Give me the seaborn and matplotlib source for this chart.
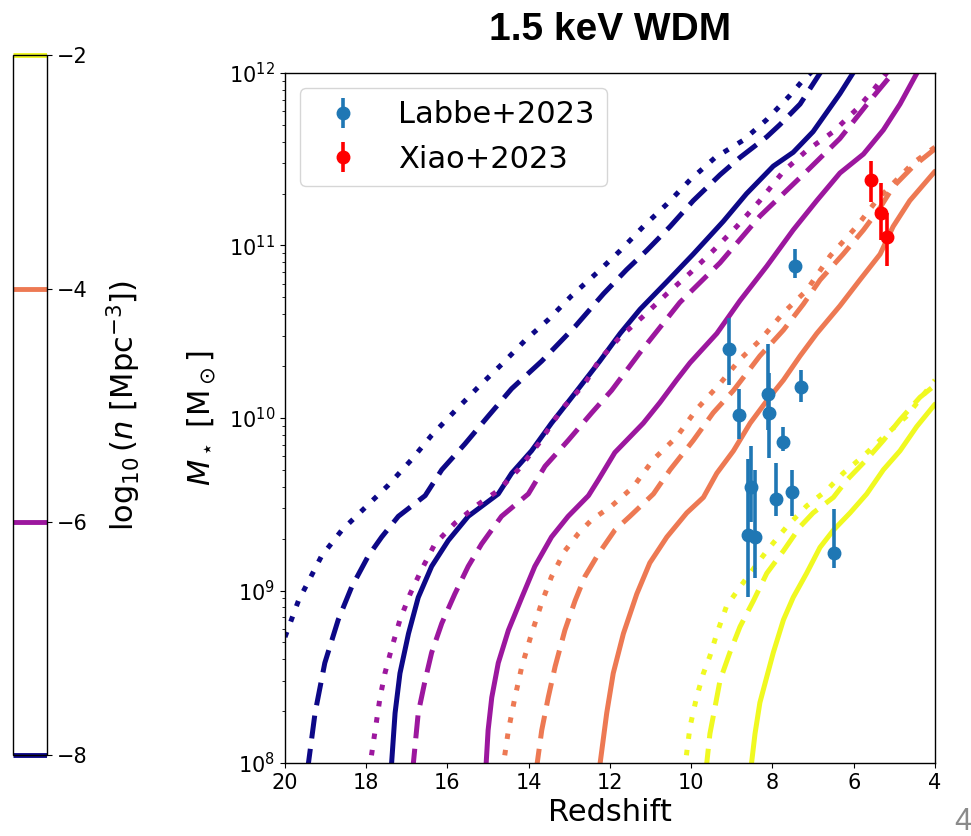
import numpy as np
import pandas as pd
import matplotlib
matplotlib.use("Agg")
import matplotlib.pyplot as plt
import seaborn as sns
from matplotlib.colors import Normalize, ListedColormap
from matplotlib.cm import ScalarMappable

# ---------------------------------------------------------------------------
# Model curves: redshift vs log10 stellar mass for four number densities
# log10(n / Mpc^-3) = -8, -6, -4, -2 and three model variants each.
# ---------------------------------------------------------------------------
n8_dotted_z = [20.0, 19.67, 19.10, 18.60, 18.03, 17.46, 16.88, 16.39, 15.82, 15.24, 14.67, 14.09, 13.52,
               12.94, 12.33, 11.75, 11.18, 10.60, 10.03, 9.41, 8.72, 8.14, 7.57, 7.28, 6.98]
n8_dotted_logm = [8.73, 8.94, 9.20, 9.35, 9.48, 9.61, 9.76, 9.90, 10.04, 10.18, 10.31, 10.45, 10.57,
                  10.71, 10.84, 10.97, 11.11, 11.24, 11.38, 11.51, 11.61, 11.73, 11.87, 11.95, 12.02]

n8_dashed_z = [19.45, 19.26, 19.02, 18.69, 18.36, 17.95, 17.62, 17.21, 16.55, 16.14, 15.57, 15.00, 14.42,
               13.68, 12.86, 12.16, 11.59, 11.10, 10.52, 9.95, 9.29, 8.80, 8.14, 7.82, 7.32, 6.80]
n8_dashed_logm = [7.95, 8.29, 8.58, 8.83, 9.02, 9.20, 9.31, 9.43, 9.55, 9.70, 9.85, 10.01, 10.17,
                  10.33, 10.53, 10.72, 10.86, 10.97, 11.11, 11.26, 11.41, 11.51, 11.63, 11.70, 11.82, 12.01]

n8_solid_z = [17.39, 17.29, 17.17, 16.96, 16.72, 16.39, 15.98, 15.49, 14.75, 14.42, 13.93, 13.44, 12.94,
              12.25, 11.75, 11.26, 10.60, 9.95, 9.21, 8.64, 7.98, 7.49, 7.00, 6.67, 6.34, 5.99]
n8_solid_logm = [7.95, 8.29, 8.52, 8.75, 8.96, 9.14, 9.29, 9.43, 9.56, 9.68, 9.81, 9.97, 10.12,
                 10.33, 10.49, 10.63, 10.79, 10.95, 11.14, 11.30, 11.46, 11.54, 11.66, 11.77, 11.88, 12.01]

n6_dotted_z = [17.93, 17.78, 17.66, 17.54, 17.37, 17.17, 16.92, 16.64, 16.31, 15.82, 15.24, 14.75, 14.26,
               13.76, 13.19, 12.62, 12.25, 11.75, 11.18, 10.60, 10.03, 9.46, 8.88, 8.31, 7.73, 7.16,
               6.50, 5.93, 5.52, 5.16]
n6_dotted_logm = [7.95, 8.19, 8.38, 8.52, 8.67, 8.83, 8.98, 9.12, 9.27, 9.39, 9.50, 9.58, 9.70,
                  9.85, 10.05, 10.20, 10.34, 10.47, 10.59, 10.72, 10.84, 10.97, 11.11, 11.26, 11.43, 11.55,
                  11.66, 11.79, 11.90, 12.01]

n6_dashed_z = [16.86, 16.72, 16.55, 16.39, 16.14, 15.82, 15.49, 15.16, 14.67, 14.01, 13.60, 13.03, 12.45,
               11.96, 11.26, 10.28, 9.29, 8.31, 7.16, 6.34, 5.60, 5.00]
n6_dashed_logm = [7.95, 8.29, 8.48, 8.64, 8.81, 8.98, 9.14, 9.27, 9.43, 9.56, 9.72, 9.87, 10.03,
                  10.16, 10.38, 10.67, 10.90, 11.17, 11.43, 11.62, 11.84, 12.01]

n6_solid_z = [15.06, 15.00, 14.91, 14.75, 14.50, 14.17, 13.85, 13.44, 13.03, 12.53, 12.29, 11.88, 11.18,
              10.77, 10.36, 10.03, 9.37, 8.80, 8.14, 7.49, 6.91, 6.34, 5.76, 5.27, 4.86, 4.42]
n6_solid_logm = [7.95, 8.19, 8.38, 8.58, 8.77, 8.96, 9.14, 9.31, 9.43, 9.55, 9.64, 9.80, 9.97,
                 10.09, 10.22, 10.32, 10.49, 10.68, 10.88, 11.09, 11.26, 11.42, 11.53, 11.67, 11.82, 12.01]

n4_dotted_z = [14.65, 14.50, 14.34, 14.17, 13.93, 13.68, 13.44, 13.11, 12.78, 12.45, 11.96, 11.43, 10.93,
               10.36, 9.87, 9.29, 8.80, 8.31, 7.73, 7.16, 6.58, 5.93, 5.44, 5.03, 4.53, 4.0]
n4_dotted_logm = [7.95, 8.19, 8.38, 8.56, 8.75, 8.93, 9.08, 9.23, 9.33, 9.41, 9.49, 9.60, 9.76,
                  9.89, 10.05, 10.20, 10.34, 10.45, 10.61, 10.74, 10.94, 11.11, 11.26, 11.36, 11.48, 11.57]

n4_dashed_z = [13.82, 13.68, 13.52, 13.35, 13.11, 12.86, 12.62, 12.29, 11.88, 11.51, 10.93, 10.52, 9.95,
               9.46, 8.96, 8.31, 7.73, 7.24, 6.83, 6.26, 5.76, 5.35, 5.03, 4.53, 4.0]
n4_dashed_logm = [7.95, 8.19, 8.38, 8.56, 8.77, 8.94, 9.08, 9.21, 9.35, 9.43, 9.56, 9.70, 9.87,
                  10.03, 10.16, 10.36, 10.51, 10.66, 10.80, 10.95, 11.09, 11.22, 11.34, 11.46, 11.56]

n4_solid_z = [12.27, 12.08, 11.92, 11.67, 11.34, 11.02, 10.60, 10.11, 9.70, 9.37, 8.96, 8.55, 8.14,
              7.73, 7.32, 6.91, 6.34, 5.85, 5.35, 5.03, 4.62, 4.0]
n4_solid_logm = [7.95, 8.29, 8.52, 8.75, 8.98, 9.16, 9.31, 9.45, 9.54, 9.68, 9.81, 9.97, 10.10,
                 10.22, 10.36, 10.49, 10.65, 10.80, 10.95, 11.11, 11.26, 11.43]

n2_dotted_z = [10.17, 10.03, 9.87, 9.70, 9.54, 9.37, 9.13, 8.80, 8.55, 8.14, 7.65, 7.16, 6.67,
               6.26, 5.76, 5.27, 4.70, 4.0]
n2_dotted_logm = [7.95, 8.21, 8.38, 8.52, 8.62, 8.75, 8.91, 9.02, 9.10, 9.23, 9.37, 9.49, 9.58,
                  9.68, 9.78, 9.89, 10.01, 10.22]

n2_dashed_z = [9.64, 9.54, 9.41, 9.29, 9.05, 8.80, 8.47, 8.14, 7.73, 7.32, 7.00, 6.50, 6.17,
               5.68, 5.27, 4.86, 4.37, 4.0]
n2_dashed_logm = [7.95, 8.17, 8.33, 8.48, 8.64, 8.79, 8.94, 9.10, 9.23, 9.37, 9.45, 9.54, 9.64,
                  9.76, 9.87, 9.99, 10.12, 10.19]

n2_solid_z = [8.54, 8.43, 8.31, 8.14, 7.98, 7.73, 7.49, 7.16, 6.83, 6.50, 6.09, 5.68, 5.27,
              4.86, 4.45, 4.0]
n2_solid_logm = [7.95, 8.17, 8.35, 8.50, 8.64, 8.83, 8.96, 9.10, 9.25, 9.35, 9.45, 9.56, 9.70,
                 9.81, 9.95, 10.08]

# ---------------------------------------------------------------------------
# Observed massive galaxies (log10 M*, with upper / lower bounds)
# ---------------------------------------------------------------------------
labbe_z = [9.07, 8.82, 8.11, 8.09, 7.31, 7.45, 7.75, 8.53, 8.60, 8.43, 7.91, 7.52, 6.49]
labbe_logm = [10.40, 10.02, 10.14, 10.03, 10.18, 10.88, 9.86, 9.60, 9.32, 9.31, 9.53, 9.57, 9.22]
labbe_logm_hi = [10.58, 10.17, 10.43, 10.26, 10.28, 10.98, 9.95, 9.84, 9.76, 9.70, 9.74, 9.70, 9.47]
labbe_logm_lo = [10.19, 9.88, 9.93, 9.77, 10.09, 10.81, 9.81, 9.40, 8.96, 9.07, 9.43, 9.43, 9.13]

xiao_z = [5.58, 5.32, 5.17]
xiao_logm = [11.38, 11.19, 11.05]
xiao_logm_hi = [11.49, 11.36, 11.19]
xiao_logm_lo = [11.25, 11.03, 10.88]

density_levels = [-8, -6, -4, -2]
variants = ["dotted", "dashed", "solid"]

# ---------------------------------------------------------------------------
# Tidy table for seaborn
# ---------------------------------------------------------------------------
curves = [
    (-8, "dotted", n8_dotted_z, n8_dotted_logm),
    (-8, "dashed", n8_dashed_z, n8_dashed_logm),
    (-8, "solid", n8_solid_z, n8_solid_logm),
    (-6, "dotted", n6_dotted_z, n6_dotted_logm),
    (-6, "dashed", n6_dashed_z, n6_dashed_logm),
    (-6, "solid", n6_solid_z, n6_solid_logm),
    (-4, "dotted", n4_dotted_z, n4_dotted_logm),
    (-4, "dashed", n4_dashed_z, n4_dashed_logm),
    (-4, "solid", n4_solid_z, n4_solid_logm),
    (-2, "dotted", n2_dotted_z, n2_dotted_logm),
    (-2, "dashed", n2_dashed_z, n2_dashed_logm),
    (-2, "solid", n2_solid_z, n2_solid_logm),
]
frames = []
for lvl, var, zz, lm in curves:
    frames.append(pd.DataFrame({"z": zz, "logm": lm, "density": lvl, "variant": var}))
df = pd.concat(frames, ignore_index=True)
df["mstar"] = 10.0 ** df["logm"]

# ---------------------------------------------------------------------------
# Style
# ---------------------------------------------------------------------------
sns.set_style("ticks", {
    "axes.edgecolor": "black",
    "axes.labelcolor": "black",
    "text.color": "black",
    "xtick.color": "black",
    "ytick.color": "black",
})
plt.rcParams["font.family"] = ["DejaVu Sans"]
plt.rcParams["mathtext.fontset"] = "dejavusans"
plt.rcParams["xtick.major.size"] = 3.5
plt.rcParams["ytick.major.size"] = 3.5
plt.rcParams["ytick.minor.size"] = 2.0
plt.rcParams["axes.linewidth"] = 1.0

cmap = plt.get_cmap("plasma")
norm = Normalize(vmin=-8, vmax=-2)
palette = {lvl: cmap(norm(lvl)) for lvl in density_levels}
dash_map = {"dotted": (1.1, 2.2), "dashed": (4.6, 2.1), "solid": ""}

fig = plt.figure(figsize=(9.71, 8.36), dpi=100)
ax = fig.add_axes([0.2935, 0.0873, 0.6694, 0.8254])
cax = fig.add_axes([0.0134, 0.0969, 0.035, 0.837])

sns.lineplot(
    data=df, x="z", y="mstar", hue="density", style="variant",
    hue_order=density_levels, style_order=variants,
    palette=palette, dashes=dash_map,
    estimator=None, sort=False, legend=False,
    linewidth=3.6, ax=ax,
)

def _asym(logm, hi, lo):
    m = 10.0 ** np.asarray(logm)
    return m, np.vstack([m - 10.0 ** np.asarray(lo), 10.0 ** np.asarray(hi) - m])

lm, lerr = _asym(labbe_logm, labbe_logm_hi, labbe_logm_lo)
ax.errorbar(labbe_z, lm, yerr=lerr, fmt="o", color="#1f77b4", ms=9,
            elinewidth=2.6, capsize=0, label="Labbe+2023", zorder=5)
xm, xerr = _asym(xiao_logm, xiao_logm_hi, xiao_logm_lo)
ax.errorbar(xiao_z, xm, yerr=xerr, fmt="o", color="red", ms=9,
            elinewidth=2.6, capsize=0, label="Xiao+2023", zorder=5)

ax.set_yscale("log")
ax.set_xlim(20, 4)
ax.set_ylim(1e8, 1e12)
ax.set_xticks(np.arange(20, 3, -2))
ax.tick_params(axis="both", which="major", labelsize=15)
ax.set_xlabel("Redshift", fontsize=22)
ax.set_ylabel(r"$M_\star\ [\mathrm{M}_\odot]$", fontsize=22, labelpad=8)
ax.set_title("1.5 keV WDM", fontsize=28, fontweight="bold",
             family=["Liberation Sans", "DejaVu Sans"], pad=24)
ax.legend(loc="upper left", fontsize=22)

# colour bar showing the number-density levels
sm = ScalarMappable(norm=norm, cmap=ListedColormap(["white"]))
cb = fig.colorbar(sm, cax=cax, ticks=density_levels)
cb.add_lines(density_levels, [palette[l] for l in density_levels], [3.5] * 4)
cb.ax.tick_params(labelsize=15)
cb.set_label(r"$\log_{10}(n\ [\mathrm{Mpc}^{-3}])$", fontsize=22, labelpad=12)

fig.text(0.991, 0.017, "4", color="#8a8a8a", fontsize=22, ha="center", va="center",
         family=["Liberation Sans", "DejaVu Sans"])

fig.savefig("out.png", dpi=100)
